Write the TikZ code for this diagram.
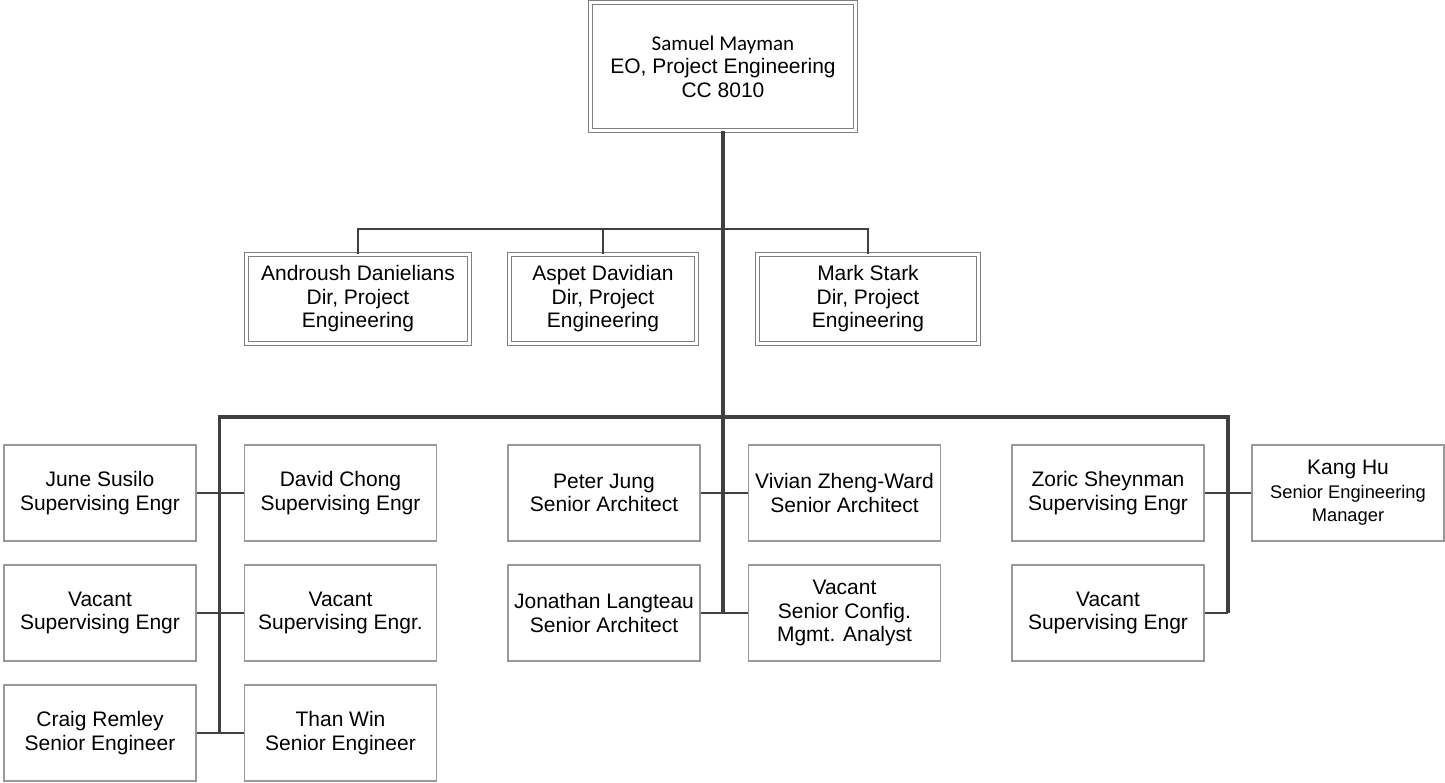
\documentclass[tikz,border=0pt]{standalone}
\usepackage{fontspec}
\setmainfont{Liberation Sans}
\newfontfamily\calfont{Carlito}
\usepackage{xcolor}

\definecolor{boxgray}{HTML}{999999}
\definecolor{linegray}{HTML}{404040}
\newcommand{\subfont}{\fontsize{18.3}{21.5}\selectfont}

\begin{document}
\begin{tikzpicture}[
  x=1pt,y=-1pt,
  font=\fontsize{21}{23.5}\selectfont,
  person/.style={draw=boxgray,line width=1.4pt,minimum width=192pt,minimum height=96pt,inner sep=0pt,align=center},
  head/.style={person,draw=gray,double=white,double distance=3.4pt,line width=1.1pt},
  bus/.style={draw=linegray,line width=3.5pt},
  link/.style={draw=linegray,line width=2.3pt}
]
\useasboundingbox (0,0) rectangle (1445,782);

\node[head,minimum width=265pt,minimum height=128pt] (ceo) at (723,66.5) {{\calfont Samuel Mayman}\\EO, Project Engineering\\CC 8010};

\node[head,minimum width=223pt,minimum height=89pt] (dan) at (358,299) {Androush Danielians\\Dir, Project\\Engineering};
\node[head,minimum width=187pt,minimum height=89pt] (dav) at (603,299) {Aspet Davidian\\Dir, Project\\Engineering};
\node[head,minimum width=221pt,minimum height=89pt] (stark) at (868,299) {Mark Stark\\Dir, Project\\Engineering};

\node[person] (susilo) at (100,493) {June Susilo\\Supervising Engr};
\node[person] (chong) at (340.5,493) {David Chong\\Supervising Engr};
\node[person] (vacA) at (100,613) {Vacant\\Supervising Engr};
\node[person] (vacB) at (340.5,613) {Vacant\\Supervising Engr.};
\node[person] (remley) at (100,733) {Craig Remley\\Senior Engineer};
\node[person] (win) at (340.5,733) {Than Win\\Senior Engineer};

\node[person] (jung) at (604,493) {Peter Jung\\Senior Architect};
\node[person] (zheng) at (844.5,493) {Vivian Zheng-Ward\\Senior Architect};
\node[person] (langteau) at (604,613) {Jonathan Langteau\\Senior Architect};
\node[person] (vacC) at (844.5,613) {Vacant\\Senior Config.\\Mgmt. Analyst};

\node[person] (sheynman) at (1108,493) {Zoric Sheynman\\Supervising Engr};
\node[person] (hu) at (1348,493) {Kang Hu\\{\subfont Senior Engineering}\\{\subfont Manager}};
\node[person] (vacD) at (1108,613) {Vacant\\Supervising Engr};

\coordinate (dbL) at (358,229);
\coordinate (dbR) at (868,229);
\coordinate (busL) at (219.5,417);
\coordinate (busR) at (1228,417);
\coordinate (endL) at (219.5,733);
\coordinate (endM) at (723,613);
\coordinate (endR) at (1228,613);

\draw[link] (dan.north) -- (dbL) -- (dbR) -- (stark.north);
\draw[link] (dav.north |- dbL) -- (dav.north);
\draw[bus] (endL) -- (busL) -- (busR) -- (endR);
\draw[bus] (ceo.south) -- (endM);

\draw[link] (susilo.east) -- (chong.west);
\draw[link] (vacA.east) -- (vacB.west);
\draw[link] (remley.east) -- (win.west);
\draw[link] (jung.east) -- (zheng.west);
\draw[link] (langteau.east) -- (vacC.west);
\draw[link] (sheynman.east) -- (hu.west);
\draw[link] (vacD.east) -- (endR);
\end{tikzpicture}
\end{document}
